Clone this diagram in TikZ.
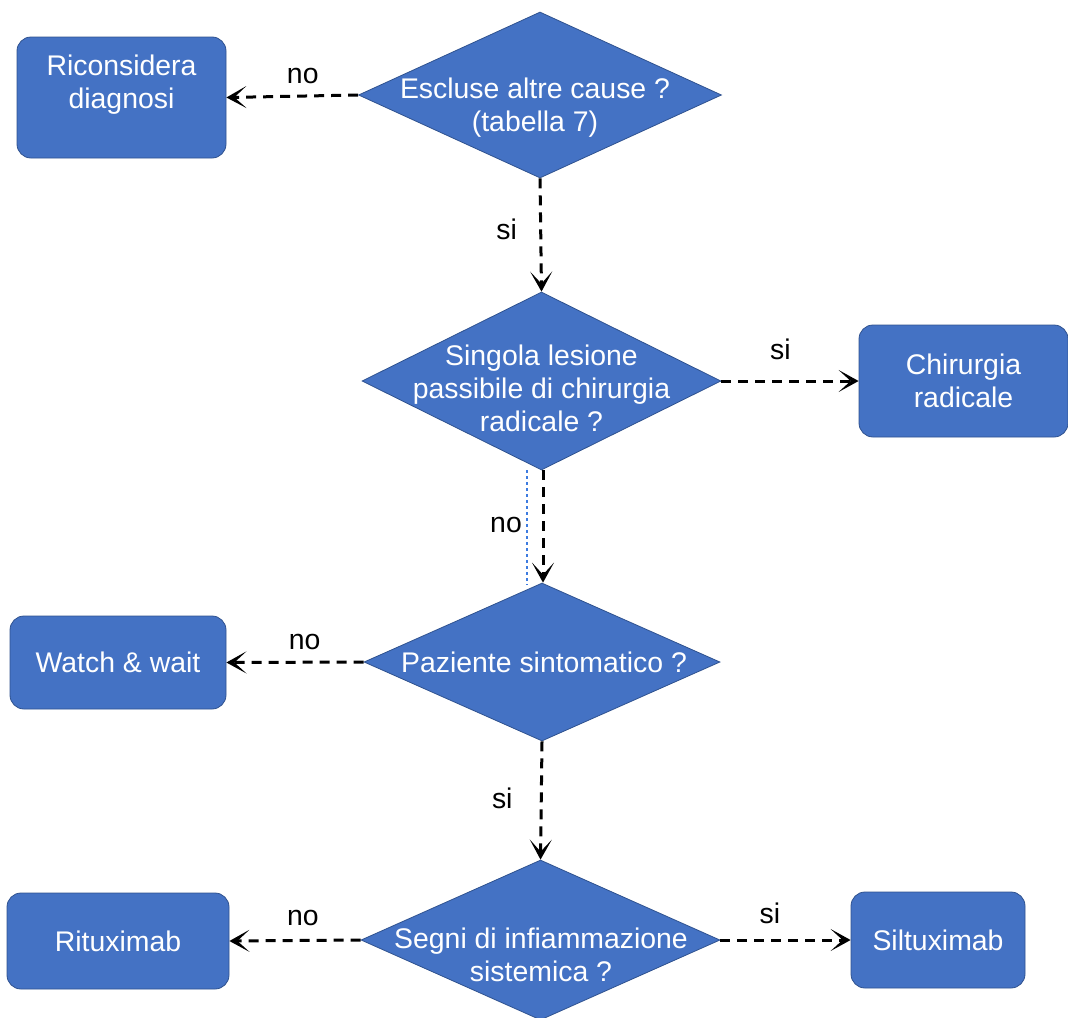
\documentclass[tikz,border=0pt]{standalone}
\usepackage{fontspec}
\setmainfont{Liberation Sans}
\usetikzlibrary{arrows.meta,shapes.geometric}
\definecolor{boxblue}{HTML}{4472C4}
\definecolor{boxedge}{HTML}{2F528F}
\definecolor{guideblue}{HTML}{3D7BE0}
\tikzset{
  endbox/.style={draw=boxedge, fill=boxblue, rounded corners=7pt, text=white, align=center, inner sep=0pt},
  decision/.style={diamond, draw=boxedge, fill=boxblue, inner sep=0pt},
  dtext/.style={text=white, align=center, inner sep=0pt},
  flow/.style={black, line width=1.5pt, dash pattern=on 5pt off 3.5pt, -{Stealth[length=10pt,width=11pt,inset=6pt]}},
  lbl/.style={text=black, inner sep=0pt}
}
\begin{document}
\begin{tikzpicture}[x=0.5pt, y=-0.5pt, font=\fontsize{14.2}{16.5}\selectfont]
\useasboundingbox (0,0) rectangle (1068,1017);

% questions
\node[decision, minimum width=181.5pt, minimum height=83pt] (cause) at (540,95) {};
\node[dtext] (causetxt) at (535,108) {Escluse altre cause ?\\(tabella 7)};
\node[decision, minimum width=179.5pt, minimum height=89pt] (single) at (541.5,381) {};
\node[dtext] (singletxt) at (541.5,388) {Singola lesione\\passibile di chirurgia\\radicale ?};
\node[decision, minimum width=178pt, minimum height=79pt] (sympt) at (542,662) {};
\node[dtext] (symptxt) at (544,662) {Paziente sintomatico ?};
\node[decision, minimum width=179.5pt, minimum height=80pt] (inflam) at (540.5,940) {};
\node[dtext] (inflamtxt) at (541,955) {Segni di infiammazione\\sistemica ?};

% outcomes
\node[endbox, minimum width=104.5pt, minimum height=60.5pt] (rethink) at (121.5,97.5) {};
\node[dtext] (rethinktxt) at (121.5,85) {Riconsidera\\diagnosi};
\node[endbox, minimum width=104.5pt, minimum height=56pt] (surgery) at (963.5,381) {Chirurgia\\radicale};
\node[endbox, minimum width=108pt, minimum height=46.5pt] (watch) at (118,662.5) {Watch \& wait};
\node[endbox, minimum width=111pt, minimum height=48pt] (ritux) at (118,941) {Rituximab};
\node[endbox, minimum width=87pt, minimum height=48pt] (siltux) at (938,940) {Siltuximab};

% connectors
\draw[flow] (cause.west) -- node[lbl, pos=0.42, yshift=10pt] (no1) {no} (rethink.east);
\draw[flow] (cause.south) -- node[lbl, pos=0.45, xshift=-17pt] (si1) {si} (single.north);
\draw[flow] (single.east) -- node[lbl, pos=0.43, yshift=16pt] (si2) {si} (surgery.west);
\draw[guideblue, line width=0.6pt, dash pattern=on 1.5pt off 1.5pt] (527,470) -- (527,585);
\draw[flow] (543,470) -- node[lbl, pos=0.49, xshift=-18.5pt] (no2) {no} (sympt.north -| 543,0);
\draw[flow] (sympt.west) -- node[lbl, pos=0.43, yshift=10pt] (no3) {no} (watch.east);
\draw[flow] (sympt.south) -- node[lbl, pos=0.48, xshift=-19.5pt] (si3) {si} (inflam.north);
\draw[flow] (inflam.west) -- node[lbl, pos=0.44, yshift=11pt] (no4) {no} (ritux.east);
\draw[flow] (inflam.east) -- node[lbl, pos=0.38, yshift=13.5pt] (si4) {si} (siltux.west);
\end{tikzpicture}
\end{document}
